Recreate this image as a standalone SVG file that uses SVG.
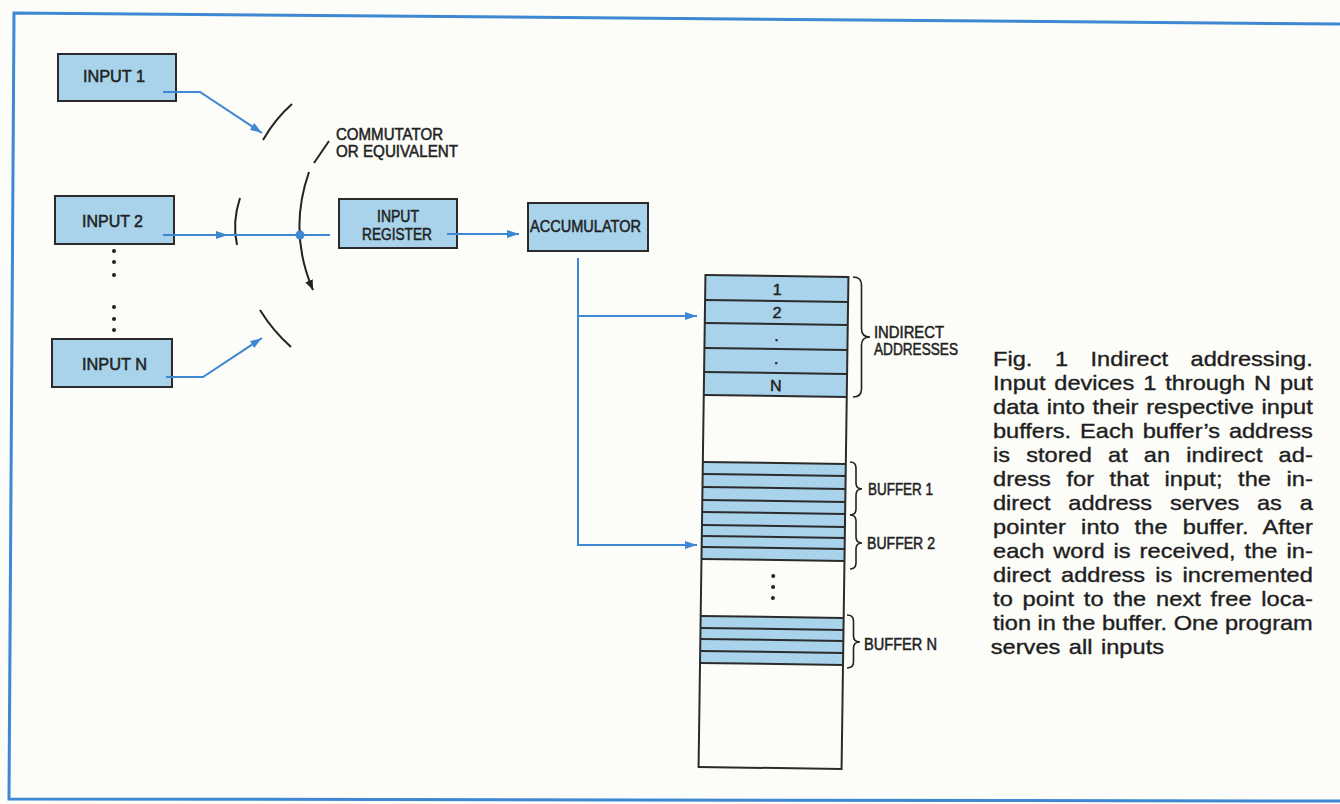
<svg xmlns="http://www.w3.org/2000/svg" width="1340" height="804" viewBox="0 0 1340 804">
<defs>
<style>
.bg{fill:#fcfcf8}
.frame{fill:none;stroke:#3d87d3;stroke-width:3}
.box{fill:#a8d3ea;stroke:#2b2b2b;stroke-width:2}
.lbl{font-family:"Liberation Sans",Arial,sans-serif;font-size:16px;fill:#222;stroke:#222;stroke-width:0.5px}
.mid{text-anchor:middle}
.con{fill:none;stroke:#3d87d3;stroke-width:2}
.arc{fill:none;stroke:#222;stroke-width:2}
.cell{fill:#a8d3ea}
.rule{stroke:#2b2b2b;stroke-width:2}
.outline{fill:none;stroke:#2b2b2b;stroke-width:2}
.brace{fill:none;stroke:#222;stroke-width:1.6}
.cap{font-family:"Liberation Sans",Arial,sans-serif;font-size:20px;fill:#1e1e1e;stroke:#1e1e1e;stroke-width:0.35px}
.dot{fill:#222}
</style>
<marker id="ab" viewBox="0 0 12 8" refX="12" refY="4" markerWidth="12" markerHeight="8" markerUnits="userSpaceOnUse" orient="auto">
<path d="M0,0 L12,4 L0,8 z" fill="#3d87d3"/>
</marker>
<marker id="ak" viewBox="0 0 10 8" refX="10" refY="4" markerWidth="10" markerHeight="8" markerUnits="userSpaceOnUse" orient="auto">
<path d="M0,0 L10,4 L0,8 z" fill="#222"/>
</marker>
</defs>
<rect class="bg" x="0" y="0" width="1340" height="804"/>
<path class="frame" d="M1345,24 L14,13 L9,799 L1345,801"/>

<g id="input1">
<rect class="box" x="58" y="54" width="118" height="47"/>
<text class="lbl" x="83" y="82" textLength="62" lengthAdjust="spacingAndGlyphs">INPUT  1</text>
</g>
<g id="input2">
<rect class="box" x="55" y="196" width="119" height="48"/>
<text class="lbl" x="82" y="227" textLength="61" lengthAdjust="spacingAndGlyphs">INPUT 2</text>
</g>
<g id="ellipsis-inputs">
<circle class="dot" cx="114" cy="251" r="2"/>
<circle class="dot" cx="114" cy="262" r="2"/>
<circle class="dot" cx="114" cy="275" r="2"/>
<circle class="dot" cx="114" cy="307" r="2"/>
<circle class="dot" cx="114" cy="319" r="2"/>
<circle class="dot" cx="114" cy="330" r="2"/>
</g>
<g id="inputN">
<rect class="box" x="52" y="339" width="120" height="48"/>
<text class="lbl" x="82" y="370" textLength="65" lengthAdjust="spacingAndGlyphs">INPUT N</text>
</g>

<g id="commutator">
<path class="arc" d="M263,140 Q275,119 292,104"/>
<path class="arc" d="M240,198 Q232,222 237,245"/>
<path class="arc" d="M260,310 Q273,331 291,347"/>
<path class="arc" d="M309,172 Q288,232 313,290" marker-end="url(#ak)"/>
<path class="arc" d="M314,163 L329,141" stroke-width="1.5"/>
<text class="lbl" x="336" y="140" textLength="107" lengthAdjust="spacingAndGlyphs">COMMUTATOR</text>
<text class="lbl" x="336" y="157" textLength="122" lengthAdjust="spacingAndGlyphs">OR EQUIVALENT</text>
</g>

<g id="input-register">
<rect class="box" x="339" y="199" width="118" height="49"/>
<text class="lbl mid" x="398" y="222" textLength="42" lengthAdjust="spacingAndGlyphs">INPUT</text>
<text class="lbl mid" x="397" y="240" textLength="70" lengthAdjust="spacingAndGlyphs">REGISTER</text>
</g>

<g id="accumulator">
<rect class="box" x="528" y="203" width="120" height="48"/>
<text class="lbl" x="530" y="232" textLength="111" lengthAdjust="spacingAndGlyphs">ACCUMULATOR</text>
</g>

<g id="memory" transform="rotate(0.8 774 522)">
<rect class="cell" x="702" y="276" width="143" height="120"/>
<rect class="cell" x="702" y="463" width="143" height="97"/>
<rect class="cell" x="702" y="617" width="143" height="47"/>
<g class="rule">
<line x1="702" y1="301" x2="845" y2="301"/>
<line x1="702" y1="324" x2="845" y2="324"/>
<line x1="702" y1="349" x2="845" y2="349"/>
<line x1="702" y1="373" x2="845" y2="373"/>
<line x1="702" y1="396" x2="845" y2="396"/>
<line x1="702" y1="463" x2="845" y2="463"/>
<line x1="702" y1="475" x2="845" y2="475"/>
<line x1="702" y1="488" x2="845" y2="488"/>
<line x1="702" y1="501" x2="845" y2="501"/>
<line x1="702" y1="513" x2="845" y2="513"/>
<line x1="702" y1="526" x2="845" y2="526"/>
<line x1="702" y1="537" x2="845" y2="537"/>
<line x1="702" y1="548" x2="845" y2="548"/>
<line x1="702" y1="560" x2="845" y2="560"/>
<line x1="702" y1="617" x2="845" y2="617"/>
<line x1="702" y1="629" x2="845" y2="629"/>
<line x1="702" y1="640" x2="845" y2="640"/>
<line x1="702" y1="652" x2="845" y2="652"/>
<line x1="702" y1="664" x2="845" y2="664"/>
</g>
<rect class="outline" x="702" y="276" width="143" height="492"/>
<text class="lbl mid" x="774" y="295">1</text>
<text class="lbl mid" x="774" y="318">2</text>
<text class="lbl mid" x="774" y="341">.</text>
<text class="lbl mid" x="774" y="364">.</text>
<text class="lbl mid" x="774" y="391">N</text>
<circle class="dot" cx="774" cy="576" r="2"/>
<circle class="dot" cx="774" cy="587" r="2"/>
<circle class="dot" cx="774" cy="598" r="2"/>
</g>

<g id="brace-indirect">
<path class="brace" d="M853,277 Q861.5,277 861.5,285 L861.5,329 Q861.5,337 870,337 Q861.5,337 861.5,345 L861.5,389 Q861.5,397 853,397"/>
<text class="lbl" x="874" y="338" textLength="70" lengthAdjust="spacingAndGlyphs" font-size="14.5">INDIRECT</text>
<text class="lbl" x="874" y="355" textLength="84" lengthAdjust="spacingAndGlyphs" font-size="14.5">ADDRESSES</text>
</g>
<g id="brace-buffer1">
<path class="brace" d="M850,462 Q856,462 856,468 L856,483 Q856,489 862,489 Q856,489 856,495 L856,509 Q856,515 850,515"/>
<text class="lbl" x="868" y="495" textLength="65" lengthAdjust="spacingAndGlyphs" font-size="14.5">BUFFER 1</text>
</g>
<g id="brace-buffer2">
<path class="brace" d="M850,515 Q856,515 856,521 L856,537 Q856,543 862,543 Q856,543 856,549 L856,563 Q856,569 850,569"/>
<text class="lbl" x="867" y="549" textLength="68" lengthAdjust="spacingAndGlyphs" font-size="14.5">BUFFER 2</text>
</g>
<g id="brace-bufferN">
<path class="brace" d="M847,615 Q853.5,615 853.5,621 L853.5,636 Q853.5,642 860,642 Q853.5,642 853.5,648 L853.5,662 Q853.5,668 847,668"/>
<text class="lbl" x="864" y="650" textLength="73" lengthAdjust="spacingAndGlyphs" font-size="14.5">BUFFER N</text>
</g>

<g id="connectors">
<path class="con" d="M163,92 L200,92 L262,133" marker-end="url(#ab)"/>
<path class="con" d="M163,235 L228,235" marker-end="url(#ab)"/>
<path class="con" d="M226,235 L330,235"/>
<circle cx="300" cy="235" r="4.5" fill="#3d87d3"/>
<path class="con" d="M166,377 L203,377 L262,338" marker-end="url(#ab)"/>
<path class="con" d="M447,234 L519,234" marker-end="url(#ab)"/>
<path class="con" d="M578,258 L578,545 L697,545" marker-end="url(#ab)"/>
<path class="con" d="M578,316 L697,316" marker-end="url(#ab)"/>
</g>

<g id="caption" transform="translate(993 0) scale(1.18 1)">
<text class="cap" x="0" y="366" textLength="271" lengthAdjust="spacing" word-spacing="13.5">Fig. 1 Indirect addressing.</text>
<text class="cap" x="0" y="390" textLength="271" lengthAdjust="spacing" word-spacing="2">Input devices 1 through N put</text>
<text class="cap" x="0" y="414" textLength="271" lengthAdjust="spacing" word-spacing="1">data into their respective input</text>
<text class="cap" x="0" y="438" textLength="271" lengthAdjust="spacing" word-spacing="2">buffers. Each buffer’s address</text>
<text class="cap" x="0" y="462" textLength="271" lengthAdjust="spacing" word-spacing="8">is stored at an indirect ad-</text>
<text class="cap" x="0" y="486" textLength="271" lengthAdjust="spacing" word-spacing="7.5">dress for that input; the in-</text>
<text class="cap" x="0" y="510" textLength="271" lengthAdjust="spacing" word-spacing="9.5">direct address serves as a</text>
<text class="cap" x="0" y="534" textLength="271" lengthAdjust="spacing" word-spacing="7">pointer into the buffer. After</text>
<text class="cap" x="0" y="558" textLength="271" lengthAdjust="spacing" word-spacing="2">each word is received, the in-</text>
<text class="cap" x="0" y="582" textLength="271" lengthAdjust="spacing" word-spacing="3">direct address is incremented</text>
<text class="cap" x="0" y="606" textLength="271" lengthAdjust="spacing" word-spacing="2.5">to point to the next free loca-</text>
<text class="cap" x="0" y="630" textLength="271" lengthAdjust="spacing">tion in the buffer. One program</text>
<text class="cap" x="-2" y="654" textLength="147" lengthAdjust="spacing" word-spacing="1.5">serves all inputs</text>
</g>
</svg>
